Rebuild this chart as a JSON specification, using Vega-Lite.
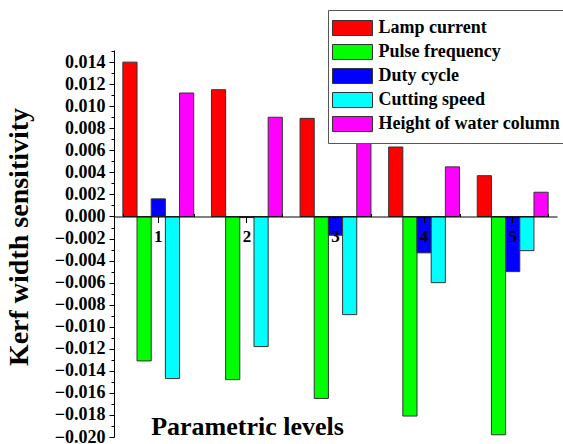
{
  "$schema": "https://vega.github.io/schema/vega-lite/v6.json",
  "width": 443,
  "height": 387,
  "autosize": {"type": "none"},
  "padding": {"left": 114, "top": 50, "right": 6, "bottom": 7},
  "background": "white",
  "config": {
    "view": {"stroke": null},
    "font": "Liberation Serif",
    "axis": {"labelFont": "Liberation Serif", "titleFont": "Liberation Serif", "labelFontWeight": "bold", "titleFontWeight": "bold"},
    "legend": {"labelFont": "Liberation Serif"}
  },
  "data": {
    "values": [
      {"level": "1", "factor": "Lamp current", "value": 0.0140},
      {"level": "1", "factor": "Pulse frequency", "value": -0.0131},
      {"level": "1", "factor": "Duty cycle", "value": 0.0016},
      {"level": "1", "factor": "Cutting speed", "value": -0.0147},
      {"level": "1", "factor": "Height of water column", "value": 0.0112},
      {"level": "2", "factor": "Lamp current", "value": 0.0115},
      {"level": "2", "factor": "Pulse frequency", "value": -0.0148},
      {"level": "2", "factor": "Duty cycle", "value": -0.0001},
      {"level": "2", "factor": "Cutting speed", "value": -0.0118},
      {"level": "2", "factor": "Height of water column", "value": 0.0090},
      {"level": "3", "factor": "Lamp current", "value": 0.0089},
      {"level": "3", "factor": "Pulse frequency", "value": -0.0165},
      {"level": "3", "factor": "Duty cycle", "value": -0.0017},
      {"level": "3", "factor": "Cutting speed", "value": -0.0089},
      {"level": "3", "factor": "Height of water column", "value": 0.0068},
      {"level": "4", "factor": "Lamp current", "value": 0.0063},
      {"level": "4", "factor": "Pulse frequency", "value": -0.0181},
      {"level": "4", "factor": "Duty cycle", "value": -0.0033},
      {"level": "4", "factor": "Cutting speed", "value": -0.0060},
      {"level": "4", "factor": "Height of water column", "value": 0.0045},
      {"level": "5", "factor": "Lamp current", "value": 0.0037},
      {"level": "5", "factor": "Pulse frequency", "value": -0.0198},
      {"level": "5", "factor": "Duty cycle", "value": -0.0050},
      {"level": "5", "factor": "Cutting speed", "value": -0.0031},
      {"level": "5", "factor": "Height of water column", "value": 0.0022}
    ]
  },
  "layer": [
    {
      "mark": {"type": "bar", "stroke": "#333333", "strokeWidth": 1},
      "encoding": {
        "x": {
          "field": "level", "type": "ordinal",
          "scale": {"paddingInner": 0.2, "paddingOuter": 0.1},
          "axis": {
            "orient": "bottom", "offset": -220.5,
            "title": "Parametric levels", "titleX": 133, "titleY": 218, "titleBaseline": "alphabetic", "titleAlign": "center",
            "titleFontSize": 26, "titleFontWeight": "bold", "titleFont": "Liberation Serif", "titleColor": "black",
            "labelAngle": 0, "labelFontSize": 17, "labelFontWeight": "bold", "labelFont": "Liberation Serif", "labelColor": "black",
            "domainColor": "black", "tickColor": "black", "tickSize": 6, "labelPadding": 6, "zindex": 1, "grid": false
          }
        },
        "xOffset": {
          "field": "factor", "type": "nominal",
          "scale": {"domain": ["Lamp current", "Pulse frequency", "Duty cycle", "Cutting speed", "Height of water column"], "paddingInner": 0, "paddingOuter": 0}
        },
        "y": {
          "field": "value", "type": "quantitative",
          "scale": {"domain": [-0.02, 0.0151], "nice": false, "zero": false},
          "axis": {
            "values": [-0.02, -0.019, -0.018, -0.017, -0.016, -0.015, -0.014, -0.013, -0.012, -0.011, -0.01, -0.009, -0.008, -0.007, -0.006, -0.005, -0.004, -0.003, -0.002, -0.001, 0, 0.001, 0.002, 0.003, 0.004, 0.005, 0.006, 0.007, 0.008, 0.009, 0.01, 0.011, 0.012, 0.013, 0.014, 0.015],
            "labelExpr": "abs(round(datum.value*1000)) % 2 == 0 ? format(datum.value, '.3f') : ''",
            "labelOverlap": false,
            "tickSize": {"condition": {"test": "abs(round(datum.value*1000)) % 2 == 0", "value": 5}, "value": 3},
            "labelFontSize": 18, "labelFontWeight": "bold", "labelFont": "Liberation Serif", "labelColor": "black", "labelPadding": 4,
            "domainColor": "black", "tickColor": "black", "grid": false,
            "title": "Kerf width sensitivity", "titleFontSize": 28, "titleFontWeight": "bold", "titleFont": "Liberation Serif", "titleColor": "black",
            "titleX": -95, "titleY": 186.5, "titleAngle": 270, "titleAlign": "center", "titleBaseline": "middle"
          }
        },
        "color": {
          "field": "factor", "type": "nominal",
          "scale": {
            "domain": ["Lamp current", "Pulse frequency", "Duty cycle", "Cutting speed", "Height of water column"],
            "range": ["#ff0000", "#00ff00", "#0000ff", "#00ffff", "#ff00ff"]
          },
          "legend": {
            "orient": "none", "legendX": 214, "legendY": -40, "title": null,
            "symbolType": "M-2.667,-1L2.667,-1L2.667,1L-2.667,1Z", "symbolSize": 225, "symbolOffset": 6.5,
            "symbolStrokeColor": "#333333", "symbolStrokeWidth": 1, "symbolOpacity": 1,
            "labelFontSize": 18, "labelFont": "Liberation Serif", "labelFontWeight": "bold", "labelColor": "black",
            "strokeColor": "#555555", "fillColor": "white", "padding": 9, "rowPadding": 4, "labelOffset": 17, "labelLimit": 400
          }
        }
      }
    },
    {
      "mark": {"type": "bar", "opacity": 0},
      "encoding": {
        "x": {
          "field": "level", "type": "ordinal",
          "scale": {"paddingInner": 0.2, "paddingOuter": 0.1},
          "axis": {
            "orient": "bottom", "offset": -220.5, "title": null, "labels": false,
            "domain": false, "tickBand": "extent", "tickSize": -3, "tickColor": "black", "grid": false, "zindex": 1
          }
        },
        "y": {
          "field": "value", "type": "quantitative",
          "scale": {"domain": [-0.02, 0.0151], "nice": false, "zero": false},
          "axis": {
            "values": [-0.02, -0.019, -0.018, -0.017, -0.016, -0.015, -0.014, -0.013, -0.012, -0.011, -0.01, -0.009, -0.008, -0.007, -0.006, -0.005, -0.004, -0.003, -0.002, -0.001, 0, 0.001, 0.002, 0.003, 0.004, 0.005, 0.006, 0.007, 0.008, 0.009, 0.01, 0.011, 0.012, 0.013, 0.014, 0.015],
            "labelExpr": "abs(round(datum.value*1000)) % 2 == 0 ? format(datum.value, '.3f') : ''",
            "labelOverlap": false,
            "tickSize": {"condition": {"test": "abs(round(datum.value*1000)) % 2 == 0", "value": 5}, "value": 3},
            "labelFontSize": 18, "labelFontWeight": "bold", "labelFont": "Liberation Serif", "labelColor": "black", "labelPadding": 4,
            "domainColor": "black", "tickColor": "black", "grid": false,
            "title": "Kerf width sensitivity", "titleFontSize": 28, "titleFontWeight": "bold", "titleFont": "Liberation Serif", "titleColor": "black",
            "titleX": -95, "titleY": 186.5, "titleAngle": 270, "titleAlign": "center", "titleBaseline": "middle"
          }
        }
      }
    }
  ],
  "resolve": {"axis": {"x": "independent"}}
}
